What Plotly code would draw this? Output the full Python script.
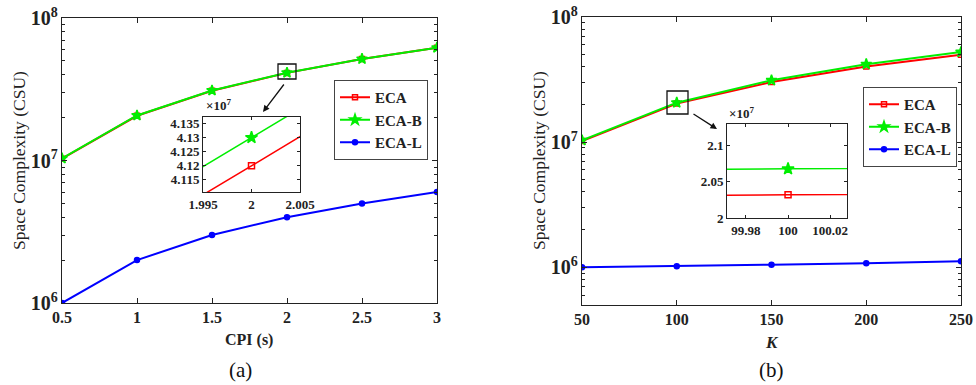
import plotly.graph_objects as go

# ---------------- data ----------------
cpi = [0.5, 1, 1.5, 2, 2.5, 3]
cpi_eca = [1.03e7, 2.06e7, 3.09e7, 4.12e7, 5.15e7, 6.18e7]
cpi_ecab = [1.035e7, 2.07e7, 3.10e7, 4.13e7, 5.16e7, 6.19e7]
cpi_ecal = [1.0e6, 2.0e6, 3.0e6, 4.0e6, 5.0e6, 6.0e6]

k_vals = [50, 100, 150, 200, 250]
k_eca = [1.02e7, 2.032e7, 3.02e7, 4.03e7, 5.0e7]
k_ecab = [1.035e7, 2.068e7, 3.12e7, 4.20e7, 5.25e7]
k_ecal = [1.0e6, 1.02e6, 1.05e6, 1.08e6, 1.12e6]

series_names = ["ECA", "ECA-B", "ECA-L"]
colors = ["#ff0000", "#00ee00", "#0000ff"]
symbols = ["square-open", "star", "circle"]
msizes = [5, 8, 5]

cpi_ticktext = ["0.5", "1", "1.5", "2", "2.5", "3"]
k_ticktext = ["50", "100", "150", "200", "250"]
inset_a_yticks = [4.115e7, 4.12e7, 4.125e7, 4.13e7, 4.135e7]
inset_a_ytext = ["4.115", "4.12", "4.125", "4.13", "4.135"]
inset_a_xticks = [1.995, 2, 2.005]
inset_a_xtext = ["1.995", "2", "2.005"]
inset_b_yticks = [2.0e7, 2.05e7, 2.1e7]
inset_b_ytext = ["2", "2.05", "2.1"]
inset_b_xticks = [99.98, 100, 100.02]
inset_b_xtext = ["99.98", "100", "100.02"]

W, H = 976, 385
FONT = "Liberation Serif"
INK = "#222"


def px(x):
    return x / W


def py(y):
    return 1 - y / H


fig = go.Figure()

left_sets = [cpi_eca, cpi_ecab, cpi_ecal]
right_sets = [k_eca, k_ecab, k_ecal]

for i, name in enumerate(series_names):
    mk = dict(symbol=symbols[i], size=msizes[i], color=colors[i],
              line=dict(color=colors[i], width=1.5))
    fig.add_trace(go.Scatter(x=cpi, y=left_sets[i], name=name, mode="lines+markers",
                             line=dict(color=colors[i], width=2), marker=mk,
                             legendgroup="a" + name,
                             xaxis="x", yaxis="y", legend="legend"))
    fig.add_trace(go.Scatter(x=k_vals, y=right_sets[i], name=name, mode="lines+markers",
                             line=dict(color=colors[i], width=2), marker=mk,
                             legendgroup="b" + name,
                             xaxis="x2", yaxis="y2", legend="legend2"))

# inset traces (ECA and ECA-B only)
for i in range(2):
    mk = dict(symbol=symbols[i], size=msizes[i] + 1, color=colors[i],
              line=dict(color=colors[i], width=1.5))
    fig.add_trace(go.Scatter(x=cpi, y=left_sets[i], mode="lines+markers", showlegend=False,
                             line=dict(color=colors[i], width=1.5), marker=mk,
                             xaxis="x3", yaxis="y3", cliponaxis=True))
    fig.add_trace(go.Scatter(x=k_vals, y=right_sets[i], mode="lines+markers", showlegend=False,
                             line=dict(color=colors[i], width=1.5), marker=mk,
                             xaxis="x4", yaxis="y4", cliponaxis=True))

tickfont = dict(family=FONT, size=16, color=INK, weight="bold")
insetfont = dict(family=FONT, size=13, color=INK, weight="bold")
legfont = dict(family=FONT, size=15, color=INK, weight="bold")

common_ax = dict(showline=True, linecolor=INK, linewidth=1, mirror="ticks",
                 ticks="inside", ticklen=5, tickcolor=INK, showgrid=False,
                 zeroline=False, automargin=False)
minor_log = dict(ticks="inside", ticklen=3, tickcolor=INK, dtick="D1", showgrid=False)

fig.update_layout(
    width=W, height=H,
    margin=dict(l=0, r=0, t=0, b=0),
    paper_bgcolor="white", plot_bgcolor="white",
    xaxis=dict(common_ax, domain=[px(62), px(437)], anchor="y", range=[0.5, 3],
               tickvals=cpi, ticktext=cpi_ticktext, tickfont=tickfont),
    yaxis=dict(common_ax, domain=[py(303), py(18)], anchor="x", type="log", range=[6, 8],
               dtick=1, exponentformat="power", tickfont=tickfont, minor=minor_log),
    xaxis2=dict(common_ax, domain=[px(582), px(961)], anchor="y2", range=[50, 250],
                tickvals=k_vals, ticktext=k_ticktext, tickfont=tickfont),
    yaxis2=dict(common_ax, domain=[py(305), py(17)], anchor="x2", type="log",
                range=[5.699, 8], dtick=1, exponentformat="power", tickfont=tickfont,
                minor=minor_log),
    xaxis3=dict(common_ax, domain=[px(203), px(300)], anchor="y3", range=[1.995, 2.005],
                tickvals=inset_a_xticks, ticktext=inset_a_xtext, tickfont=insetfont, ticklen=3),
    yaxis3=dict(common_ax, domain=[py(192), py(117)], anchor="x3", range=[4.1107e7, 4.1373e7],
                tickvals=inset_a_yticks, ticktext=inset_a_ytext, tickfont=insetfont, ticklen=3),
    xaxis4=dict(common_ax, domain=[px(727), px(847)], anchor="y4", range=[99.971, 100.028],
                tickvals=inset_b_xticks, ticktext=inset_b_xtext, tickfont=insetfont, ticklen=3),
    yaxis4=dict(common_ax, domain=[py(218), py(124)], anchor="x4", range=[2.0e7, 2.13e7],
                tickvals=inset_b_yticks, ticktext=inset_b_ytext, tickfont=insetfont, ticklen=3),
    legend=dict(x=px(334), y=py(80), xanchor="left", yanchor="top",
                bordercolor="#444", borderwidth=1, bgcolor="white", font=legfont,
                itemwidth=30, tracegroupgap=0, traceorder="grouped"),
    legend2=dict(x=px(863), y=py(87), xanchor="left", yanchor="top",
                 bordercolor="#444", borderwidth=1, bgcolor="white", font=legfont,
                 itemwidth=30, tracegroupgap=0, traceorder="grouped"),
    showlegend=True,
)


def label(x, y, text, font, angle=0, xa="center", ya="middle"):
    fig.add_annotation(xref="paper", yref="paper", x=px(x), y=py(y), text=text,
                       textangle=angle, showarrow=False, font=font,
                       xanchor=xa, yanchor=ya)


# axis titles
ytitle_font = dict(family=FONT, size=17.5, color=INK)
label(19, 161, "Space Complexity (CSU)", ytitle_font, angle=-90)
label(539, 161, "Space Complexity (CSU)", ytitle_font, angle=-90)
label(249, 340, "CPI (s)", dict(family=FONT, size=16, color=INK, weight="bold"))
label(772, 342, "<i>K</i>", dict(family=FONT, size=17, color=INK, weight="bold"))

# zoom boxes
fig.add_shape(type="rect", xref="paper", yref="paper", x0=px(278), x1=px(296),
              y0=py(79), y1=py(64), line=dict(color="#111", width=1.3))
fig.add_shape(type="rect", xref="paper", yref="paper", x0=px(667), x1=px(688),
              y0=py(114), y1=py(91), line=dict(color="#111", width=1.3))

# arrows
fig.add_annotation(xref="paper", yref="paper", x=px(263), y=py(112), ax=285 - 263, ay=83 - 112,
                   text="", showarrow=True, arrowhead=2, arrowsize=1, arrowwidth=1.3,
                   arrowcolor="#111")
fig.add_annotation(xref="paper", yref="paper", x=px(717), y=py(129), ax=692 - 717, ay=113 - 129,
                   text="", showarrow=True, arrowhead=2, arrowsize=1, arrowwidth=1.3,
                   arrowcolor="#111")

# exponent labels for insets
expfont = dict(family=FONT, size=13, color=INK, weight="bold")
label(204, 105, "×10<sup>7</sup>", expfont, xa="left")
label(727, 113, "×10<sup>7</sup>", expfont, xa="left")

# panel labels
label(240, 370, "(a)", dict(family=FONT, size=21, color="#111"))
label(771, 370, "(b)", dict(family=FONT, size=21, color="#111"))

# place the figure at the page origin so it fills the 976x385 window exactly
fig.write_html("out.html", config={"displayModeBar": False},
               post_script="document.body.style.margin='0';document.body.style.overflow='hidden';")
